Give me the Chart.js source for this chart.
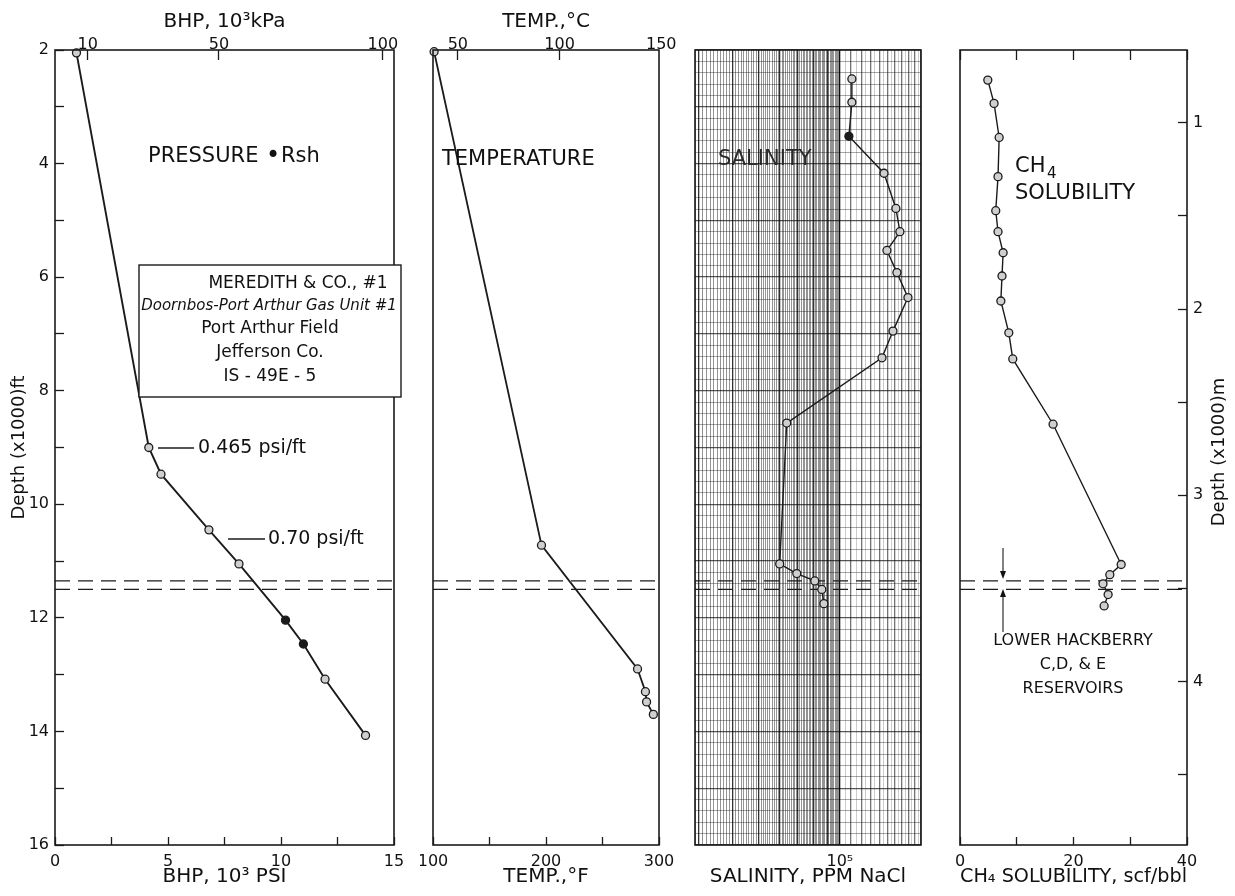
<!DOCTYPE html>
<html>
<head>
<meta charset="utf-8">
<script src="https://cdn.jsdelivr.net/npm/chart.js@4.4.1/dist/chart.umd.min.js"></script>
<style>
  html, body { margin: 0; padding: 0; background: #fff; }
  body { width: 1235px; height: 896px; position: relative; overflow: hidden; }
  canvas { position: absolute; top: 0; }
</style>
</head>
<body>
<canvas id="pressureChart" width="420" height="896" style="left:0px"></canvas>
<canvas id="tempChart" width="260" height="896" style="left:420px"></canvas>
<canvas id="salinityChart" width="260" height="896" style="left:680px"></canvas>
<canvas id="ch4Chart" width="295" height="896" style="left:940px"></canvas>
<script>
// depths are in 1000 ft
const pressureDepth = [2.05, 9.0, 9.47, 10.45, 11.05, 12.04, 12.46, 13.08, 14.07]
const pressurePsi = [0.95, 4.15, 4.69, 6.81, 8.14, 10.2, 10.99, 11.95, 13.74]
const pressureRsh = [false, false, false, false, false, true, true, false, false]

const tempDepth = [2.03, 10.72, 12.9, 13.3, 13.48, 13.7]
const tempF = [101, 196, 281, 288, 289, 295]

const salinityDepth = [2.51, 2.92, 3.52, 4.17, 4.79, 5.2, 5.53, 5.92, 6.36, 6.95, 7.42, 8.57, 11.05, 11.22, 11.35, 11.5, 11.75]
const salinityPpm = [110800, 110800, 108000, 145800, 161400, 167000, 149500, 162800, 178900, 157400, 143300, 63500, 59800, 69200, 80700, 85700, 87200]
const salinityRsh = [false, false, true, false, false, false, false, false, false, false, false, false, false, false, false, false, false]

const ch4Depth = [2.53, 2.94, 3.54, 4.23, 4.83, 5.2, 5.57, 5.98, 6.42, 6.98, 7.44, 8.59, 11.06, 11.24, 11.4, 11.59, 11.79]
const ch4Scf = [4.9, 6.0, 6.9, 6.7, 6.3, 6.7, 7.6, 7.4, 7.2, 8.6, 9.3, 16.4, 28.4, 26.4, 25.2, 26.1, 25.4]

// top and base of the Lower Hackberry C, D & E reservoirs
const reservoirDepths = [11.35, 11.5]

const depthTicksFt = [2, 3, 4, 5, 6, 7, 8, 9, 10, 11, 12, 13, 14, 15, 16]
const depthTicksM = [1, 1.5, 2, 2.5, 3, 3.5, 4, 4.5]
const psiTicks = [0, 2.5, 5, 7.5, 10, 12.5, 15]
const kpaTicks = [10, 50, 100]
const tempFTicks = [100, 150, 200, 250, 300]
const tempCTicks = [50, 100, 150]
const ch4Ticks = [0, 10, 20, 30, 40]

const INK = '#1b1b1b'
const FONT = '"DejaVu Sans", "Liberation Sans", sans-serif'

Chart.defaults.font.family = FONT
Chart.defaults.color = '#111'
Chart.defaults.animation = false
Chart.defaults.plugins.legend.display = false
Chart.defaults.plugins.tooltip.enabled = false

// axes get fixed sizes so the four panels line up
const fixedSize = (size) => (s) => {
    if (s.isHorizontal()) s.height = size
    else s.width = size
    s.paddingLeft = s.paddingRight = s.paddingTop = s.paddingBottom = 0
}
const setTicks = (values) => (s) => { s.ticks = values.map(v => ({ value: v })) }
const tickMarks = (len) => ({ drawOnChartArea: false, drawTicks: true, tickLength: -len, tickColor: INK, tickWidth: 1.3 })
const tickFont = { size: 16 }
const titleFont = { size: 20 }

const hiddenDepth = { type: 'linear', reverse: true, min: 2, max: 16, display: false }

const reservoirSets = (xmin, xmax) => reservoirDepths.map(d => ({
    data: [{ x: xmin, y: d }, { x: xmax, y: d }],
    showLine: true,
    borderColor: INK,
    borderWidth: 1.2,
    borderDash: [15, 8],
    pointRadius: 0
}))

const profileSet = (xs, ys, filled, width) => ({
    data: xs.map((x, i) => ({ x: x, y: ys[i] })),
    showLine: true,
    borderColor: INK,
    borderWidth: width,
    pointRadius: 4,
    pointBorderWidth: 1.3,
    pointBorderColor: INK,
    pointBackgroundColor: xs.map((x, i) => filled && filled[i] ? INK : '#cfcfcf'),
    clip: false
})

const frame = {
    id: 'frame',
    afterDatasetsDraw(chart) {
        const { ctx, chartArea: a } = chart
        ctx.save()
        ctx.strokeStyle = INK
        ctx.lineWidth = 1.6
        ctx.strokeRect(a.left, a.top, a.right - a.left, a.bottom - a.top)
        ctx.restore()
    }
}

// free text and marks drawn on top, positions in page pixels
const notes = (offsetX, drawFn) => ({
    id: 'notes',
    afterDraw(chart) {
        const ctx = chart.ctx
        ctx.save()
        ctx.translate(-offsetX, 0)
        ctx.fillStyle = '#111'
        ctx.strokeStyle = INK
        ctx.textBaseline = 'middle'
        drawFn(ctx)
        ctx.restore()
    }
})

const text = (ctx, s, x, y, size, align, style) => {
    ctx.font = (style || '') + ' ' + size + 'px ' + FONT
    ctx.textAlign = align || 'left'
    ctx.fillText(s, x, y)
}
const line = (ctx, x1, y1, x2, y2, w) => {
    ctx.lineWidth = w || 1.3
    ctx.beginPath()
    ctx.moveTo(x1, y1)
    ctx.lineTo(x2, y2)
    ctx.stroke()
}
const arrowHead = (ctx, x, y, dir) => {
    ctx.beginPath()
    ctx.moveTo(x, y)
    ctx.lineTo(x - 3, y - 8 * dir)
    ctx.lineTo(x + 3, y - 8 * dir)
    ctx.closePath()
    ctx.fill()
}

// ---------- pressure ----------
new Chart(document.getElementById('pressureChart'), {
    type: 'scatter',
    data: {
        datasets: [profileSet(pressurePsi, pressureDepth, pressureRsh, 1.9), ...reservoirSets(0, 15)]
    },
    options: {
        responsive: false,
        layout: { padding: { left: 0, right: 26, top: 0, bottom: 0 }, autoPadding: false },
        scales: {
            x: {
                type: 'linear', position: 'bottom', min: 0, max: 15,
                afterBuildTicks: setTicks(psiTicks), afterFit: fixedSize(51),
                ticks: { autoSkip: false, maxRotation: 0, font: tickFont, padding: 15, callback: v => v % 5 === 0 ? String(v) : '' },
                grid: tickMarks(8), border: { display: false },
                title: { display: true, text: 'BHP, 10³ PSI', font: titleFont, padding: { bottom: 7 } }
            },
            x2: {
                type: 'linear', position: 'top', min: 0, max: 15 * 6.894757,
                afterBuildTicks: setTicks(kpaTicks), afterFit: fixedSize(50),
                ticks: { autoSkip: false, maxRotation: 0, font: tickFont, padding: 6 },
                grid: tickMarks(10), border: { display: false },
                title: { display: true, text: 'BHP, 10³kPa', font: titleFont, padding: { top: 10 } }
            },
            y: {
                type: 'linear', position: 'left', reverse: true, min: 2, max: 16,
                afterBuildTicks: setTicks(depthTicksFt), afterFit: fixedSize(55),
                ticks: { autoSkip: false, font: tickFont, padding: 15, callback: v => v % 2 === 0 ? String(v) : '' },
                grid: tickMarks(9), border: { display: false },
                title: { display: true, text: 'Depth (x1000)ft', font: { size: 18 }, padding: { top: 9 } }
            }
        }
    },
    plugins: [frame, notes(0, ctx => {
        text(ctx, 'PRESSURE', 148, 157, 21)
        text(ctx, '•', 266, 157, 24)
        text(ctx, 'Rsh', 281, 157, 21)
        // well box
        ctx.fillStyle = '#fff'
        ctx.fillRect(139, 265, 262, 132)
        ctx.lineWidth = 1.4
        ctx.strokeRect(139, 265, 262, 132)
        ctx.fillStyle = '#111'
        text(ctx, 'MEREDITH & CO., #1', 298, 284, 17, 'center')
        text(ctx, 'Doornbos-Port Arthur Gas Unit #1', 269, 306, 15, 'center', 'italic')
        text(ctx, 'Port Arthur Field', 270, 329, 17, 'center')
        text(ctx, 'Jefferson Co.', 270, 353, 17, 'center')
        text(ctx, 'IS - 49E - 5', 270, 377, 17, 'center')
        // gradients
        line(ctx, 158, 448, 194, 448)
        text(ctx, '0.465 psi/ft', 198, 448, 19)
        line(ctx, 228, 539, 265, 539)
        text(ctx, '0.70 psi/ft', 268, 539, 19)
    })]
})

// ---------- temperature ----------
new Chart(document.getElementById('tempChart'), {
    type: 'scatter',
    data: {
        datasets: [profileSet(tempF, tempDepth, null, 1.8), ...reservoirSets(100, 300)]
    },
    options: {
        responsive: false,
        layout: { padding: { left: 13, right: 21, top: 0, bottom: 0 }, autoPadding: false },
        scales: {
            x: {
                type: 'linear', position: 'bottom', min: 100, max: 300,
                afterBuildTicks: setTicks(tempFTicks), afterFit: fixedSize(51),
                ticks: { autoSkip: false, maxRotation: 0, font: tickFont, padding: 15, callback: v => v % 100 === 0 ? String(v) : '' },
                grid: tickMarks(8), border: { display: false },
                title: { display: true, text: 'TEMP.,°F', font: titleFont, padding: { bottom: 7 } }
            },
            x2: {
                type: 'linear', position: 'top', min: (100 - 32) / 1.8, max: (300 - 32) / 1.8,
                afterBuildTicks: setTicks(tempCTicks), afterFit: fixedSize(50),
                ticks: { autoSkip: false, maxRotation: 0, font: tickFont, padding: 6 },
                grid: Object.assign(tickMarks(10), { tickColor: c => c.tick && c.tick.value > 149 ? 'rgba(0,0,0,0)' : INK }),
                border: { display: false },
                title: { display: true, text: 'TEMP.,°C', font: titleFont, padding: { top: 10 } }
            },
            y: hiddenDepth
        }
    },
    plugins: [frame, notes(420, ctx => {
        text(ctx, 'TEMPERATURE', 442, 160, 21)
    })]
})

// ---------- salinity (log paper) ----------
const salGrid = []
for (let v = 29000; v < 100000; v += 1000) salGrid.push(v)
for (let v = 100000; v <= 200000; v += 5000) salGrid.push(v)
const depthGrid = []
for (let d = 20; d <= 160; d += 2) depthGrid.push(d / 10)

new Chart(document.getElementById('salinityChart'), {
    type: 'scatter',
    data: {
        datasets: [profileSet(salinityPpm, salinityDepth, salinityRsh, 1.4), ...reservoirSets(29000, 200000)]
    },
    options: {
        responsive: false,
        layout: { padding: { left: 15, right: 19, top: 50, bottom: 0 }, autoPadding: false },
        scales: {
            x: {
                type: 'logarithmic', position: 'bottom', min: 29000, max: 200000,
                afterBuildTicks: setTicks(salGrid), afterFit: fixedSize(51),
                ticks: { autoSkip: false, maxRotation: 0, minRotation: 0, font: tickFont, padding: 7, callback: v => v === 100000 ? '10⁵' : '' },
                grid: {
                    drawTicks: false,
                    color: c => {
                        const v = c.tick ? c.tick.value : 0
                        if (v === 100000) return 'rgba(0,0,0,0.95)'
                        if (v < 100000) return v % 10000 === 0 ? 'rgba(0,0,0,0.8)' : 'rgba(0,0,0,0.42)'
                        return v % 10000 === 0 ? 'rgba(0,0,0,0.55)' : 'rgba(0,0,0,0.2)'
                    },
                    lineWidth: c => c.tick && c.tick.value % 10000 === 0 ? 1.3 : 1
                },
                border: { display: false },
                title: { display: true, text: 'SALINITY, PPM NaCl', font: titleFont, padding: { bottom: 7 } }
            },
            y: {
                type: 'linear', reverse: true, min: 2, max: 16,
                afterBuildTicks: setTicks(depthGrid), afterFit: fixedSize(0),
                ticks: { display: false, autoSkip: false },
                grid: {
                    drawTicks: false,
                    color: c => c.tick && Math.abs(c.tick.value - Math.round(c.tick.value)) < 1e-6 ? 'rgba(0,0,0,0.65)' : 'rgba(0,0,0,0.35)',
                    lineWidth: c => c.tick && Math.abs(c.tick.value - Math.round(c.tick.value)) < 1e-6 ? 1.3 : 1
                },
                border: { display: false }
            }
        }
    },
    plugins: [frame, notes(680, ctx => {
        ctx.fillStyle = '#2a2a2a'
        text(ctx, 'SALINITY', 718, 160, 21)
    })]
})

// ---------- methane solubility ----------
new Chart(document.getElementById('ch4Chart'), {
    type: 'scatter',
    data: {
        datasets: [profileSet(ch4Scf, ch4Depth, null, 1.4), ...reservoirSets(0, 40)]
    },
    options: {
        responsive: false,
        layout: { padding: { left: 20, right: 0, top: 0, bottom: 0 }, autoPadding: false },
        scales: {
            x: {
                type: 'linear', position: 'bottom', min: 0, max: 40,
                afterBuildTicks: setTicks(ch4Ticks), afterFit: fixedSize(51),
                ticks: { autoSkip: false, maxRotation: 0, font: tickFont, padding: 15, callback: v => v % 20 === 0 ? String(v) : '' },
                grid: tickMarks(8), border: { display: false },
                title: { display: true, text: 'CH₄ SOLUBILITY, scf/bbl', font: titleFont, padding: { bottom: 7 } }
            },
            x2: {
                type: 'linear', position: 'top', min: 0, max: 40,
                afterBuildTicks: setTicks(ch4Ticks), afterFit: fixedSize(50),
                ticks: { autoSkip: false, maxRotation: 0, callback: () => '' },
                grid: tickMarks(10), border: { display: false }
            },
            y: hiddenDepth,
            y2: {
                type: 'linear', position: 'right', reverse: true, min: 0.6096, max: 4.8768,
                afterBuildTicks: setTicks(depthTicksM), afterFit: fixedSize(48),
                ticks: { autoSkip: false, font: tickFont, padding: 15, callback: v => Number.isInteger(v) ? String(v) : '' },
                grid: tickMarks(9), border: { display: false }
            }
        }
    },
    plugins: [frame, notes(940, ctx => {
        text(ctx, 'CH', 1015, 167, 21)
        text(ctx, '4', 1047, 174, 15)
        text(ctx, 'SOLUBILITY', 1015, 194, 21)
        // reservoir markers
        line(ctx, 1003, 548, 1003, 572, 1.1)
        arrowHead(ctx, 1003, 579, 1)
        line(ctx, 1003, 632, 1003, 596, 1.1)
        arrowHead(ctx, 1003, 589, -1)
        text(ctx, 'LOWER HACKBERRY', 1073, 641, 16, 'center')
        text(ctx, 'C,D, & E', 1073, 665, 16, 'center')
        text(ctx, 'RESERVOIRS', 1073, 689, 16, 'center')
        // metric depth axis title
        ctx.save()
        ctx.translate(1219, 452)
        ctx.rotate(-Math.PI / 2)
        text(ctx, 'Depth (x1000)m', 0, 0, 18, 'center')
        ctx.restore()
    })]
})
</script>
</body>
</html>
